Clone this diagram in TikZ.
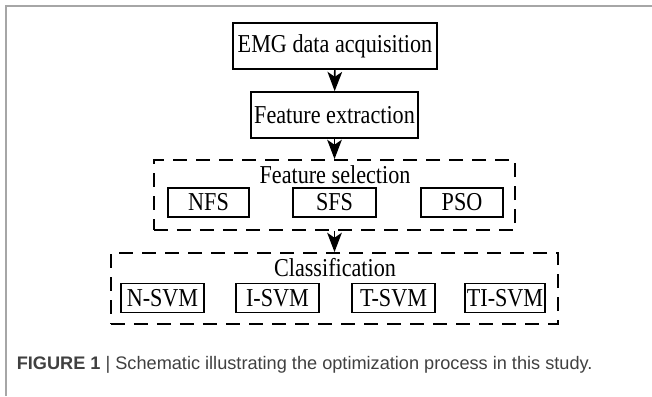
\documentclass[tikz,border=0pt]{standalone}
\usepackage{fontspec}
\setmainfont{Liberation Serif}[FakeStretch=0.86]
\newfontfamily\capfont{Liberation Sans}
\usetikzlibrary{arrows.meta}

\begin{document}
\begin{tikzpicture}[x=0.03cm, y=-0.03cm, line width=1.4pt,
    font=\fontsize{22}{24}\selectfont,
    box/.style={draw, inner sep=0pt, minimum height=1.38cm},
    subbox/.style={draw, inner sep=0pt, minimum height=0.88cm},
    group/.style={draw, dashed, dash pattern=on 0.42cm off 0.27cm, line width=1.6pt, inner sep=0pt},
    flow/.style={-{Stealth[length=0.58cm, width=0.44cm, inset=0.15cm]}}]
    \useasboundingbox (0, 0) rectangle (652, 396);
    % frame
    \draw [gray!70, line width=0.06cm] (6, 396) -- (6, 6) -- (652, 6);
    % top chain
    \node [box, minimum width=6.12cm] (0) at (335, 46) {EMG data acquisition};
    \node [box, minimum width=5.01cm] (1) at (334.5, 115) {Feature extraction};
    % feature selection
    \node [group, minimum width=10.83cm, minimum height=2.1cm] (2) at (334.5, 195) {};
    \node [] (3) at (335, 175) {Feature selection};
    \node [subbox, minimum width=2.43cm] (4) at (208.5, 202.5) {NFS};
    \node [subbox, minimum width=2.49cm] (5) at (334.5, 202.5) {SFS};
    \node [subbox, minimum width=2.46cm] (6) at (462, 202.5) {PSO};
    % classification
    \node [group, minimum width=13.41cm, minimum height=2.13cm] (7) at (334.5, 288.5) {};
    \node [] (8) at (335, 268) {Classification};
    \node [subbox, minimum width=2.49cm] (9) at (162.5, 298) {N-SVM};
    \node [subbox, minimum width=2.49cm] (10) at (277.5, 298) {I-SVM};
    \node [subbox, minimum width=2.49cm] (11) at (393.5, 298) {T-SVM};
    \node [subbox, minimum width=2.4cm] (12) at (505, 298) {TI-SVM};
    \draw [flow] (0) to (1);
    \draw [flow] (1) to (2);
    \draw [flow] (2) to (7);
    % caption
    \node [anchor=west, inner sep=0pt, font=\capfont\fontsize{15.5}{18}\selectfont, text=black!75] (13) at (16, 365)
      {\textbf{FIGURE 1} | Schematic illustrating the optimization process in this study.};
\end{tikzpicture}
\end{document}
